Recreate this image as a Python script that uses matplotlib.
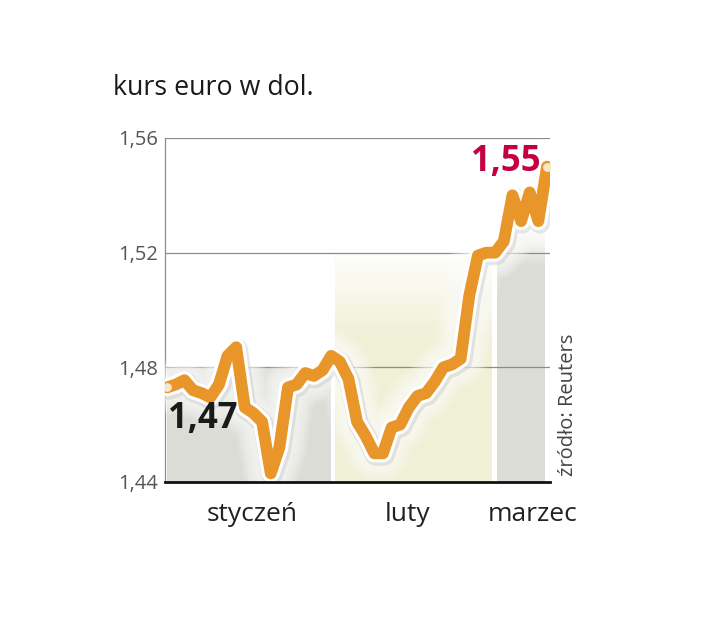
import matplotlib
matplotlib.use('Agg')
import matplotlib.pyplot as plt
import matplotlib.patheffects as pe
import numpy as np

plt.rcParams['font.family'] = ['Open Sans', 'DejaVu Sans']

# kurs euro w dolarach, kolejne sesje (sty - pocz. marca)
rate = [
    1.473, 1.474, 1.4755, 1.472, 1.471, 1.4695, 1.474, 1.484, 1.487, 1.466,
    1.464, 1.461, 1.443, 1.452, 1.473, 1.474, 1.478, 1.477, 1.479, 1.484,
    1.482, 1.476, 1.461, 1.456, 1.450, 1.450, 1.459, 1.460, 1.466, 1.470,
    1.471, 1.475, 1.480, 1.481, 1.483, 1.505, 1.519, 1.520, 1.520, 1.524,
    1.540, 1.531, 1.541, 1.531, 1.550,
]
days = np.arange(len(rate))
months = ['styczeń', 'luty', 'marzec']
month_start = [0, 19.4, 38.2]
month_end = [19.0, 37.6, 43.8]
month_label_pos = [9.9, 27.9, 42.3]
yticks = [1.44, 1.48, 1.52, 1.56]
ytick_labels = ['1,44', '1,48', '1,52', '1,56']

fig = plt.figure(figsize=(7.13, 6.4), dpi=100)
ax = fig.add_axes([0.2314, 0.2469, 0.540, 0.5375])
ax.set_xlim(-0.25, 44.35)
ax.set_ylim(1.44, 1.56)

# tlo miesiecy
band_colors = ['#dcdcd6', '#f0f0d6', '#dcdcd6']
band_solid = [1.48, 1.49, 1.515]
band_top = [1.48, 1.522, 1.528]
for x0, x1, c, s, t in zip(month_start, month_end, band_colors, band_solid, band_top):
    ax.fill_between([x0, x1], 1.44, s, color=c, lw=0, zorder=1)
    if t > s:
        n = 30
        edges = np.linspace(s, t, n + 1)
        for k in range(n):
            ax.fill_between([x0, x1], edges[k], edges[k + 1], color=c,
                            alpha=1 - (k + 0.5) / n, lw=0, zorder=1)

for y in yticks[1:]:
    ax.axhline(y, color='#8c8c8c', lw=0.9, zorder=2)

ax.set_yticks(yticks)
ax.set_yticklabels(ytick_labels, fontsize=14.5, color='#555555')
ax.tick_params(axis='y', length=0, pad=5)
ax.set_xticks([])
for side in ['top', 'right']:
    ax.spines[side].set_visible(False)
ax.spines['left'].set_color('#8c8c8c')
ax.spines['left'].set_linewidth(0.9)
ax.spines['bottom'].set_color('#111111')
ax.spines['bottom'].set_linewidth(2)
ax.spines['bottom'].set_zorder(6)

# linia z miekka poswiata
glow = [pe.Stroke(linewidth=w, foreground='white', alpha=0.12)
        for w in range(40, 16, -3)]
ax.plot(days, rate, color='#e8952a', lw=8.5, solid_joinstyle='round',
        solid_capstyle='round', zorder=4,
        path_effects=glow + [
            pe.Stroke(linewidth=15, foreground='#bdbdbd', alpha=0.35, offset=(1, -1.5)),
            pe.Stroke(linewidth=13, foreground='white'),
            pe.Normal()])
ax.scatter([days[0], days[-1]], [rate[0], rate[-1]], s=40, color='#f7e7c6',
           zorder=5, lw=0)

ax.text(days[0] + 0.15, 1.4618, '1,47', fontsize=25, fontweight='bold',
        color='#1a1a1a', ha='left', va='center', zorder=6)
ax.text(days[-1] - 0.7, 1.5515, '1,55', fontsize=25, fontweight='bold',
        color='#c4003f', ha='right', va='center', zorder=6)

for lab, pos in zip(months, month_label_pos):
    ax.text(pos, 1.4285, lab, fontsize=19, color='#222222', ha='center',
            va='center')

fig.text(0.797, 0.367, 'źródło: Reuters', rotation=90, fontsize=14.5,
         color='#444444', ha='center', va='center')
fig.text(0.158, 0.862, 'kurs euro w dol.', fontsize=19.3, color='#1a1a1a',
         ha='left', va='center')

fig.savefig('out.png', dpi=100)
